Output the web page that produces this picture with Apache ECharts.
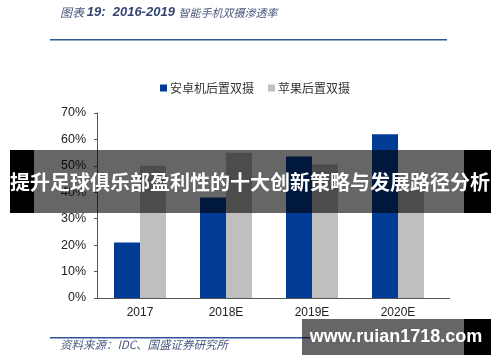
<!DOCTYPE html>
<html>
<head>
<meta charset="utf-8">
<script src="https://cdn.jsdelivr.net/npm/echarts@6/dist/echarts.min.js"></script>
<style>html,body{margin:0;padding:0;background:#fff;}#c{width:500px;height:362px;}</style>
</head>
<body>
<div id="c"></div>
<script>
var categories = ['2017', '2018E', '2019E', '2020E'];
var androidDual = [21, 38, 53.5, 62];
var appleDual = [50, 55, 50.5, 41];
var seriesNames = ['安卓机后置双摄', '苹果后置双摄'];
var yTicks = [0, 10, 20, 30, 40, 50, 60, 70];

var chart = echarts.init(document.getElementById('c'));
var cjk = '"Noto Sans CJK SC", "Noto Sans", sans-serif';
chart.setOption({
  animation: false,
  backgroundColor: '#ffffff',
  legend: {
    left: 155, top: 77,
    itemWidth: 7, itemHeight: 7, itemGap: 14,
    icon: 'rect',
    textStyle: {fontFamily: cjk, fontSize: 12, color: '#333', padding: [0, 0, 0, -2]},
    data: seriesNames
  },
  grid: {left: 97, width: 344, top: 113, bottom: 64},
  xAxis: {
    type: 'category', data: categories,
    axisLine: {lineStyle: {color: '#555', width: 1}},
    axisTick: {inside: true, length: 4, lineStyle: {color: '#555'}},
    axisLabel: {fontFamily: 'Liberation Sans, Arial, sans-serif', fontSize: 12, color: '#222', margin: 9}
  },
  yAxis: {
    type: 'value', min: 0, max: 70, interval: 10,
    axisLine: {show: true, lineStyle: {color: '#555', width: 1}},
    axisTick: {show: true, length: 3, lineStyle: {color: '#555'}},
    splitLine: {show: false},
    axisLabel: {
      fontFamily: 'Liberation Sans, Arial, sans-serif', fontSize: 12.5, color: '#222', margin: 11,
      formatter: function (v) { return yTicks.indexOf(v) >= 0 ? v + '%' : ''; }
    }
  },
  series: [
    {name: seriesNames[0], type: 'bar', data: androidDual, barWidth: 26, barGap: '0%', itemStyle: {color: '#003C96'}},
    {name: seriesNames[1], type: 'bar', data: appleDual, barWidth: 26, itemStyle: {color: '#BFBFBF'}}
  ],
  graphic: [
    {type: 'text', left: 60, top: 6, z: 100, style: {
      text: '{c|图表 }{a|19:  2016-2019 }{b|智能手机双摄渗透率}',
      rich: {
        a: {fontFamily: 'Liberation Sans, Arial, sans-serif', fontSize: 13, fontStyle: 'italic', fontWeight: 'bold', fill: '#34466e'},
        b: {fontFamily: cjk, fontSize: 11, fontStyle: 'italic', fill: '#4a5a7e'},
        c: {fontFamily: cjk, fontSize: 12, fontStyle: 'italic', fill: '#4a5a7e'}
      }}},
    {type: 'line', shape: {x1: 441, y1: 298.5, x2: 450, y2: 298.5}, z: 50, style: {stroke: '#555', lineWidth: 1}},
    {type: 'rect', shape: {x: 50, y: 39, width: 397, height: 1.5}, z: 100, style: {fill: '#2f5597'}},
    {type: 'rect', shape: {x: 50, y: 337, width: 260, height: 1.5}, z: 100, style: {fill: '#2f5597'}},
    {type: 'text', left: 60, top: 339, z: 100, style: {text: '资料来源：IDC、国盛证券研究所', fontFamily: cjk, fontSize: 11.5, fontStyle: 'italic', fill: '#4a5a7e'}},
    {type: 'rect', shape: {x: 34, y: 150, width: 430, height: 63}, z: 100, style: {fill: 'rgba(0,0,0,0.6)'}},
    {type: 'rect', shape: {x: 10, y: 150, width: 24, height: 63}, z: 100, style: {fill: '#000'}},
    {type: 'rect', shape: {x: 464, y: 150, width: 27, height: 63}, z: 100, style: {fill: '#000'}},
    {type: 'text', x: 250, y: 182, z: 101, style: {text: '提升足球俱乐部盈利性的十大创新策略与发展路径分析', fontFamily: cjk, fontSize: 20, fontWeight: 'bold', fill: '#fff', align: 'center', verticalAlign: 'middle'}},
    {type: 'rect', shape: {x: 302, y: 319, width: 162, height: 36}, z: 100, style: {fill: 'rgba(0,0,0,0.6)'}},
    {type: 'rect', shape: {x: 464, y: 319, width: 27, height: 36}, z: 100, style: {fill: '#000'}},
    {type: 'text', x: 396, y: 337, z: 101, style: {text: 'www.ruian1718.com', fontFamily: '"Liberation Sans", Arial, sans-serif', fontSize: 18, fontWeight: 'bold', fill: '#fff', align: 'center', verticalAlign: 'middle'}}
  ]
});
</script>
</body>
</html>
